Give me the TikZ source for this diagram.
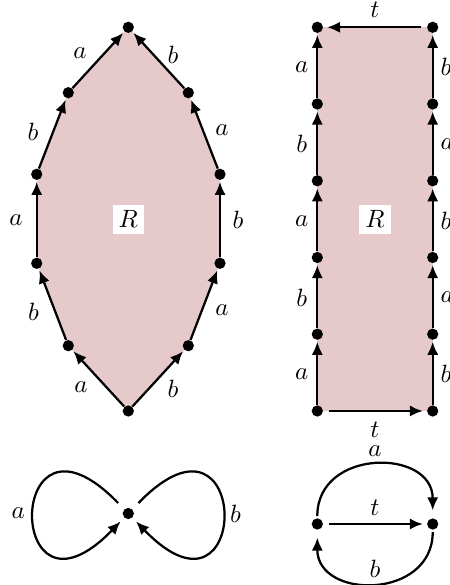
\documentclass[tikz,border=0pt]{standalone}
\usetikzlibrary{arrows.meta}
\definecolor{relfill}{RGB}{230,201,203}
\begin{document}
\begin{tikzpicture}[x=0.4pt,y=0.4pt,
  dot/.style={circle,fill=black,inner sep=0pt,minimum size=4.5pt},
  e/.style={-{Latex[length=5.2pt,width=4.5pt]},line width=0.9pt,shorten >=0.6pt},
  te/.style={e,shorten <=2.2pt,shorten >=1.5pt},
  lb/.style={midway,inner sep=0pt},
  rlab/.style={fill=white,inner sep=2.4pt}]
\useasboundingbox (0,0) rectangle (449,585);
% fills
\fill[relfill] (128.3,557.7) -- (188.3,492.3) -- (220,410.7) -- (220,321.7) -- (188.3,239.3) -- (128.3,174) -- (68.3,239.3) -- (36.7,321.7) -- (36.7,410.7) -- (68.3,492.3) -- cycle;
\fill[relfill] (317.3,174) rectangle (432.7,557.7);
% left polygon
\node[dot] (T)   at (128.3,557.7) {};
\node[dot] (UL)  at (68.3,492.3) {};
\node[dot] (UR)  at (188.3,492.3) {};
\node[dot] (ML1) at (36.7,410.7) {};
\node[dot] (MR1) at (220,410.7) {};
\node[dot] (ML2) at (36.7,321.7) {};
\node[dot] (MR2) at (220,321.7) {};
\node[dot] (LL)  at (68.3,239.3) {};
\node[dot] (LR)  at (188.3,239.3) {};
\node[dot] (B)   at (128.3,174) {};
\draw[e] (B) -- node[lb,shift={(-17.3,-8.7)}] {$a$} (LL);
\draw[e] (LL) -- node[lb,shift={(-19,-7)}] {$b$} (ML2);
\draw[e] (ML2) -- node[lb,shift={(-20.7,-1)}] {$a$} (ML1);
\draw[e] (ML1) -- node[lb,shift={(-19.5,1.5)}] {$b$} (UL);
\draw[e] (UL) -- node[lb,shift={(-18.3,7)}] {$a$} (T);
\draw[e] (B) -- node[lb,shift={(14.7,-10.7)}] {$b$} (LR);
\draw[e] (LR) -- node[lb,shift={(17.8,-5.5)}] {$a$} (MR2);
\draw[e] (MR2) -- node[lb,shift={(18,-1)}] {$b$} (MR1);
\draw[e] (MR1) -- node[lb,shift={(17.8,3.5)}] {$a$} (UR);
\draw[e] (UR) -- node[lb,shift={(14.7,5)}] {$b$} (T);
\node[rlab] (R1) at (128.3,365.8) {$R$};
% rectangle
\node[dot] (P0) at (317.3,174) {};
\node[dot] (P1) at (317.3,250.8) {};
\node[dot] (P2) at (317.3,327.5) {};
\node[dot] (P3) at (317.3,404.2) {};
\node[dot] (P4) at (317.3,481) {};
\node[dot] (P5) at (317.3,557.7) {};
\node[dot] (Q0) at (432.7,174) {};
\node[dot] (Q1) at (432.7,250.8) {};
\node[dot] (Q2) at (432.7,327.5) {};
\node[dot] (Q3) at (432.7,404.2) {};
\node[dot] (Q4) at (432.7,481) {};
\node[dot] (Q5) at (432.7,557.7) {};
\draw[e] (P0) -- node[lb,shift={(-15.6,-1.5)}] {$a$} (P1);
\draw[e] (P1) -- node[lb,shift={(-15.6,-1.5)}] {$b$} (P2);
\draw[e] (P2) -- node[lb,shift={(-15.6,-1.5)}] {$a$} (P3);
\draw[e] (P3) -- node[lb,shift={(-15.6,-1.5)}] {$b$} (P4);
\draw[e] (P4) -- node[lb,shift={(-15.6,-1.5)}] {$a$} (P5);
\draw[e] (Q0) -- node[lb,shift={(13.3,-1.5)}] {$b$} (Q1);
\draw[e] (Q1) -- node[lb,shift={(14.6,-1.5)}] {$a$} (Q2);
\draw[e] (Q2) -- node[lb,shift={(13.3,-1.5)}] {$b$} (Q3);
\draw[e] (Q3) -- node[lb,shift={(14.6,-1.5)}] {$a$} (Q4);
\draw[e] (Q4) -- node[lb,shift={(13.3,-1.5)}] {$b$} (Q5);
\draw[te] (Q5) -- node[lb,shift={(0,17.3)}] {$t$} (P5);
\draw[te] (P0) -- node[lb,shift={(0,-19)}] {$t$} (Q0);
\node[rlab] (R2) at (375,365.8) {$R$};
% figure eight
\node[dot] (C) at (128.3,71.5) {};
\draw[e,shorten <=3.4pt,shorten >=2pt] (C) .. controls +(-124,128) and +(-124,-128) .. node[lb,pos=0.5,shift={(-16,0)}] {$a$} (C);
\draw[e,shorten <=3.4pt,shorten >=2pt] (C) .. controls +(124,128) and +(124,-128) .. node[lb,pos=0.5,shift={(13,0)}] {$b$} (C);
% circle graph
\node[dot] (L) at (317.3,61) {};
\node[dot] (Rr) at (432.7,61) {};
\draw[e,shorten <=0.8pt,shorten >=3pt] (L) to[out=90,in=90,looseness=1.55] node[lb,shift={(0,14)}] {$a$} (Rr);
\draw[e,shorten <=0.8pt,shorten >=3pt] (Rr) to[out=-90,in=-90,looseness=1.55] node[lb,shift={(0,14)}] {$b$} (L);
\draw[te] (L) -- node[lb,shift={(0,16)}] {$t$} (Rr);
\end{tikzpicture}
\end{document}
